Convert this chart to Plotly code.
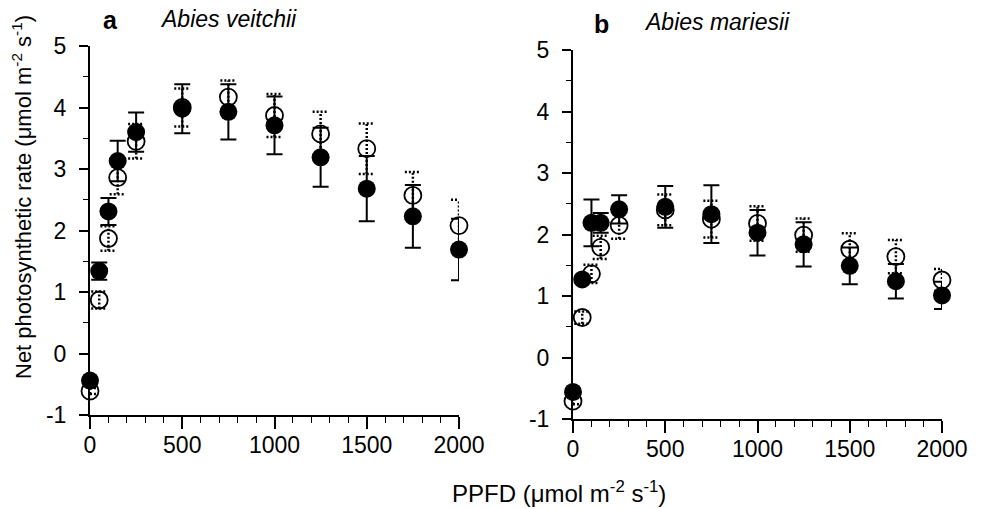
import plotly.graph_objects as go

# PPFD levels (µmol m-2 s-1)
ppfd = [0, 50, 100, 150, 250, 500, 750, 1000, 1250, 1500, 1750, 2000]

# Panel a: Abies veitchii
a_filled = [-0.44, 1.34, 2.31, 3.13, 3.60, 3.98, 3.93, 3.71, 3.19, 2.68, 2.23, 1.69]
a_filled_err = [0.05, 0.14, 0.22, 0.33, 0.32, 0.40, 0.45, 0.47, 0.48, 0.53, 0.51, 0.50]
a_open = [-0.61, 0.87, 1.87, 2.86, 3.45, 4.00, 4.17, 3.87, 3.57, 3.33, 2.57, 2.08]
a_open_err = [0.05, 0.14, 0.20, 0.27, 0.28, 0.31, 0.27, 0.35, 0.36, 0.41, 0.38, 0.42]

# Panel b: Abies mariesii
b_filled = [-0.56, 1.27, 2.19, 2.19, 2.41, 2.45, 2.33, 2.03, 1.84, 1.49, 1.24, 1.01]
b_filled_err = [0.05, 0.05, 0.38, 0.16, 0.23, 0.34, 0.47, 0.37, 0.36, 0.30, 0.28, 0.22]
b_open = [-0.71, 0.65, 1.36, 1.79, 2.15, 2.40, 2.25, 2.18, 1.99, 1.76, 1.64, 1.26]
b_open_err = [0.05, 0.10, 0.15, 0.19, 0.22, 0.25, 0.30, 0.28, 0.27, 0.26, 0.27, 0.18]

panel_letters = ["a", "b"]
species = ["Abies veitchii", "Abies mariesii"]
x_ticks = [0, 500, 1000, 1500, 2000]
y_ticks = [-1, 0, 1, 2, 3, 4, 5]
y_tick_labels = ["-1", "0", "1", "2", "3", "4", "5"]

W, H = 982, 509
FONT = "Liberation Sans, Arial, sans-serif"

fig = go.Figure()

def dotted_bars(xs, ys, es, cap):
    bx, by = [], []
    for x, y, e in zip(xs, ys, es):
        bx += [x, x, None, x - cap, x + cap, None, x - cap, x + cap, None]
        by += [y - e, y + e, None, y + e, y + e, None, y - e, y - e, None]
    return bx, by

panels = [
    ("x", "y", a_filled, a_filled_err, a_open, a_open_err),
    ("x2", "y2", b_filled, b_filled_err, b_open, b_open_err),
]
cap = 2000 * 8 / 369.0
for xa, ya, yf, ef, yo, eo in panels:
    fig.add_trace(go.Scatter(
        x=ppfd, y=yo, mode="markers", xaxis=xa, yaxis=ya, cliponaxis=False,
        marker=dict(size=17, color="white", line=dict(color="black", width=1.8)),
        showlegend=False))
    fig.add_trace(go.Scatter(
        x=ppfd, y=yf, mode="markers", xaxis=xa, yaxis=ya, cliponaxis=False,
        marker=dict(size=18, color="black", line=dict(color="black", width=0)),
        error_y=dict(type="data", array=ef, visible=True, color="black",
                     thickness=2, width=8),
        showlegend=False))
    bx, by = dotted_bars(ppfd, yo, eo, cap)
    fig.add_trace(go.Scatter(
        x=bx, y=by, mode="lines", xaxis=xa, yaxis=ya, cliponaxis=False,
        line=dict(color="black", width=2.5, dash="2px,2px"), showlegend=False,
        hoverinfo="skip"))

xdom_a = [90 / W, 459 / W]
xdom_b = [573 / W, 942 / W]
ydom_a = [1 - 415 / H, 1 - 46 / H]
ydom_b = [1 - 419 / H, 1 - 50 / H]

def xaxis(dom, anchor):
    return dict(domain=dom, anchor=anchor, range=[0, 2000], tickvals=x_ticks,
                ticks="outside", ticklen=12, tickwidth=1.5, tickcolor="black",
                showline=True, linecolor="black", linewidth=2, showgrid=False,
                zeroline=False, ticklabelstandoff=-4, automargin=False,
                tickfont=dict(family=FONT, size=23, color="black"),
                minor=dict(dtick=100, ticks="outside", ticklen=6, tickwidth=1.2,
                           tickcolor="black", showgrid=False))

def yaxis(dom, anchor):
    return dict(domain=dom, anchor=anchor, range=[-1, 5], tickvals=y_ticks,
                ticktext=y_tick_labels,
                ticks="outside", ticklen=9, tickwidth=1.5, tickcolor="black",
                showline=True, linecolor="black", linewidth=2, showgrid=False,
                zeroline=False, ticklabelstandoff=8, automargin=False,
                tickfont=dict(family=FONT, size=23, color="black"),
                minor=dict(dtick=0.5, ticks="outside", ticklen=5, tickwidth=1.2,
                           tickcolor="black", showgrid=False))

annotations = [
    dict(text="PPFD (μmol m<sup>-2</sup> s<sup>-1</sup>)", x=559 / W, y=1 - 492 / H,
         xref="paper", yref="paper", showarrow=False,
         xanchor="center", yanchor="middle",
         font=dict(family=FONT, size=24, color="black")),
    dict(text="Net photosynthetic rate (μmol m<sup>-2</sup> s<sup>-1</sup>)",
         x=22 / W, y=1 - 197 / H, xref="paper", yref="paper", showarrow=False,
         xanchor="center", yanchor="middle",
         textangle=-90, font=dict(family=FONT, size=22, color="black")),
    dict(text="<b>%s</b>" % panel_letters[0], x=110 / W, y=1 - 20 / H,
         xref="paper", yref="paper", showarrow=False,
         xanchor="center", yanchor="middle",
         font=dict(family=FONT, size=25, color="black")),
    dict(text="<i>%s</i>" % species[0], x=228 / W, y=1 - 19 / H,
         xref="paper", yref="paper", showarrow=False,
         xanchor="center", yanchor="middle",
         font=dict(family=FONT, size=23, color="black")),
    dict(text="<b>%s</b>" % panel_letters[1], x=601 / W, y=1 - 24 / H,
         xref="paper", yref="paper", showarrow=False,
         xanchor="center", yanchor="middle",
         font=dict(family=FONT, size=25, color="black")),
    dict(text="<i>%s</i>" % species[1], x=717 / W, y=1 - 22 / H,
         xref="paper", yref="paper", showarrow=False,
         xanchor="center", yanchor="middle",
         font=dict(family=FONT, size=23, color="black")),
]

fig.update_layout(
    width=W, height=H, margin=dict(l=0, r=0, t=0, b=0, autoexpand=False),
    paper_bgcolor="white", plot_bgcolor="white",
    xaxis=xaxis(xdom_a, "y"), yaxis=yaxis(ydom_a, "x"),
    xaxis2=xaxis(xdom_b, "y2"), yaxis2=yaxis(ydom_b, "x2"),
    annotations=annotations, font=dict(family=FONT),
)

fig.write_html(
    "out.html",
    config={"displayModeBar": False},
    post_script="document.body.style.margin='0';document.body.style.overflow='hidden';",
)
